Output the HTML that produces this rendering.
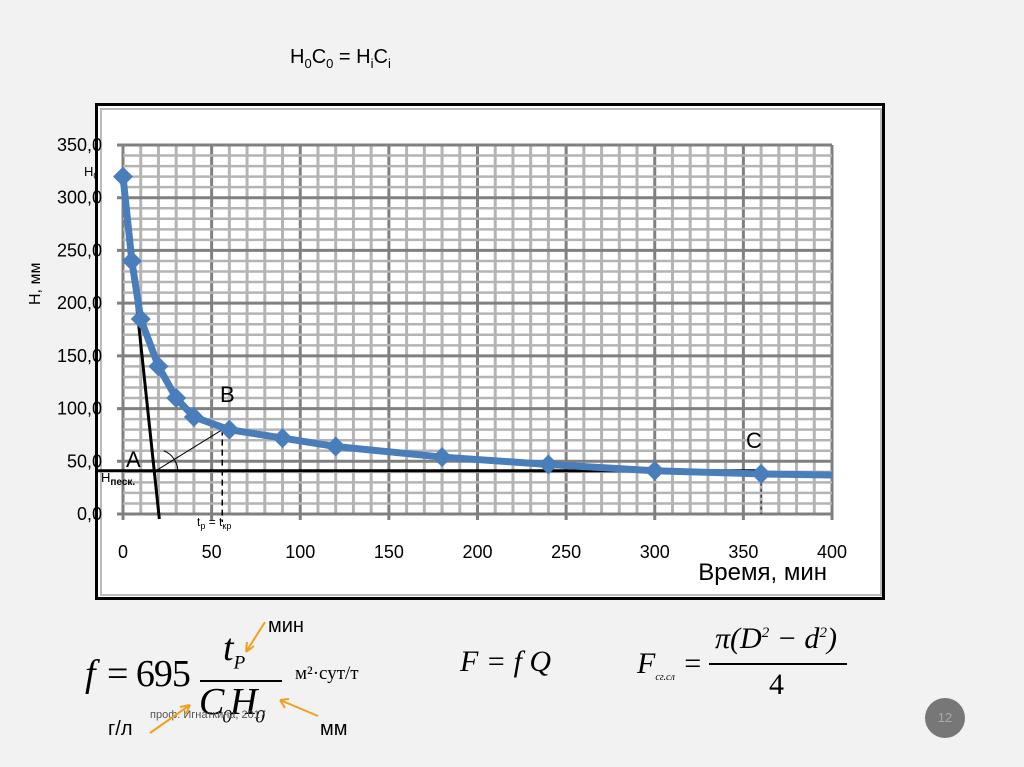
<!DOCTYPE html>
<html><head><meta charset="utf-8"><style>
body{margin:0;width:1024px;height:767px;background:#f2f2f2;position:relative;overflow:hidden;font-family:"Liberation Sans","DejaVu Sans",sans-serif}
.abs{position:absolute}
</style></head><body>
<div class="abs" style="left:290px;top:46px;font-size:20px">H<sub style="font-size:13px">0</sub>C<sub style="font-size:13px">0</sub> = H<sub style="font-size:13px">i</sub>C<sub style="font-size:13px">i</sub></div>
<div class="abs" style="left:95px;top:103px;width:784px;height:491px;border:3px solid #000;background:#fff"></div>
<div class="abs" style="left:100px;top:108px;width:778px;height:484px;border:2px solid #bbb"></div>
<svg class="abs" style="left:0;top:0" width="1024" height="767">
<g id="grid"></g><g id="axes"></g><g id="ann"></g><g id="series"></g>
</svg>
<div class="abs" style="left:85px;top:630px;width:330px;height:110px;font-family:'Liberation Serif',serif">
<span class="abs" style="left:0;top:22px;font-size:38px;font-style:italic">f</span>
<span class="abs" style="left:22px;top:22px;font-size:38px;letter-spacing:-1px">= 695</span>
<span class="abs" style="left:138px;top:-4px;font-size:38px;font-style:italic">t<sub style="font-size:19px">P</sub></span>
<div class="abs" style="left:115px;top:50px;width:82px;border-top:2px solid #000"></div>
<span class="abs" style="left:114px;top:50px;font-size:38px;font-style:italic;letter-spacing:-2px">C<sub style="font-size:19px">0</sub>H<sub style="font-size:19px">0</sub></span>
<span class="abs" style="left:210px;top:33px;font-size:19px">м²·сут/т</span>
</div>
<div class="abs" style="left:268px;top:615px;font-size:20px">мин</div>
<div class="abs" style="left:108px;top:718px;font-size:20px">г/л</div>
<div class="abs" style="left:320px;top:718px;font-size:20px">мм</div>
<div class="abs" style="left:150px;top:709px;font-size:11px;color:#555">проф. Игнаткина, 2017</div>
<svg class="abs" style="left:0;top:0" width="1024" height="767">
<g stroke="#f0a020" stroke-width="2" fill="none">
<path d="M265 622 L246 652 M246 652 L247 642 M246 652 L254 646"/>
<path d="M150 733 L190 705 M190 705 L180 707 M190 705 L186 714"/>
<path d="M318 716 L280 700 M280 700 L289 699 M280 700 L285 708"/>
</g></svg>
<div class="abs" style="left:460px;top:645px;font-size:30px;font-style:italic;font-family:'Liberation Serif',serif">F = f Q</div>
<div class="abs" style="left:637px;top:620px;width:220px;height:100px;font-family:'Liberation Serif',serif">
<span class="abs" style="left:0;top:27px;font-size:30px;font-style:italic">F<sub style="font-size:10px">сг.сл</sub> =</span>
<span class="abs" style="left:78px;top:2px;font-size:30px;font-style:italic">π(D<sup style="font-size:15px">2</sup> − d<sup style="font-size:15px">2</sup>)</span>
<div class="abs" style="left:72px;top:43px;width:138px;border-top:2px solid #000"></div>
<span class="abs" style="left:132px;top:48px;font-size:30px">4</span>
</div>
<div class="abs" style="left:925px;top:698px;width:40px;height:40px;border-radius:50%;background:#777;color:#aaa;font-size:13px;text-align:center;line-height:40px">12</div>
<script>
const xTicks=[0,50,100,150,200,250,300,350,400];
const yTicks=[0,50,100,150,200,250,300,350];
const timeVals=[0,5,10,20,30,40,60,90,120,180,240,300,360,400];
const hVals=[320,240,185,140,110,92,80,72,64,54,47,41,38,37];
const markerTimes=[0,5,10,20,30,40,60,90,120,180,240,300,360];
const hSand=41;
const X0=123,X1=832,Y0=514,Y1=145;
const sx=v=>X0+(X1-X0)*v/400, sy=v=>Y0-(Y0-Y1)*v/350;
const NS='http://www.w3.org/2000/svg';
function mk(p,t,a){const e=document.createElementNS(NS,t);for(const k in a)e.setAttribute(k,a[k]);p.appendChild(e);return e;}
const grid=document.getElementById('grid'),axes=document.getElementById('axes'),ann=document.getElementById('ann'),ser=document.getElementById('series');
for(let v=0;v<=400;v+=10){const l=mk(grid,'line',{x1:sx(v),x2:sx(v),y1:Y1,y2:Y0+(v%50?0:6),stroke:v%50?'#b4b4b4':'#808080','stroke-width':3});
}
for(let v=0;v<=350;v+=10){const l=mk(grid,'line',{x1:X0-(v%50?0:6),x2:X1,y1:sy(v),y2:sy(v),stroke:v%50?'#b4b4b4':'#808080','stroke-width':v%50?2.5:3});
}
xTicks.forEach(v=>{const t=mk(axes,'text',{x:sx(v),y:558,'text-anchor':'middle','font-size':18});t.textContent=v;
});
yTicks.forEach(v=>{const t=mk(axes,'text',{x:102,y:sy(v)+6,'text-anchor':'end','font-size':18});t.textContent=v.toFixed(1).replace('.',',');
});
let t=mk(axes,'text',{x:827,y:580,'text-anchor':'end','font-size':24});t.textContent='Время, мин';

t=mk(axes,'text',{x:0,y:0,'font-size':16,transform:'translate(40,305) rotate(-90)'});t.textContent='H, мм';

const yS=sy(hSand);
let l=mk(ann,'line',{x1:98,x2:sx(360),y1:yS,y2:yS,stroke:'#000','stroke-width':3});
l=mk(ann,'line',{x1:sx(0),y1:sy(hVals[0]),x2:sx(20.5),y2:sy(0)+5,stroke:'#000','stroke-width':3});
const ax=sx(18.5),bx=sx(56),by=sy(80);
l=mk(ann,'line',{x1:ax,y1:yS,x2:bx,y2:by,stroke:'#000','stroke-width':1});
l=mk(ann,'line',{x1:bx,y1:by,x2:bx,y2:522,stroke:'#000','stroke-width':1.5,'stroke-dasharray':'6,4'});
l=mk(ann,'line',{x1:sx(360),y1:yS,x2:sx(360),y2:Y0,stroke:'#000','stroke-width':1,'stroke-dasharray':'3,3'});
l=mk(ann,'path',{d:`M${ax+22} ${yS} A22 22 0 0 0 ${ax+8} ${yS-20}`,fill:'none',stroke:'#000','stroke-width':1});
[['A',126,467,22,'label-a'],['B',220,402,22,'label-b'],['C',746,448,22,'label-c']].forEach(a=>{const e=mk(ann,'text',{x:a[1],y:a[2],'font-size':a[3]});e.textContent=a[0];});
let e=mk(ann,'text',{x:84,y:176,'font-size':13});e.innerHTML='H<tspan font-size="9" dy="3">0</tspan>';
e=mk(ann,'text',{x:101,y:482,'font-size':13});e.innerHTML='H<tspan font-size="10" font-weight="bold" dy="3">песк.</tspan>';
e=mk(ann,'text',{x:197,y:526,'font-size':12});e.innerHTML='t<tspan font-size="9" dy="3">p</tspan><tspan dy="-3"> = t</tspan><tspan font-size="9" dy="3">кр</tspan>';
const pl=mk(ser,'polyline',{points:timeVals.map((v,i)=>sx(v)+','+sy(hVals[i])).join(' '),fill:'none',stroke:'#4a7ebb','stroke-width':7,'stroke-linejoin':'round'});

timeVals.forEach((v,i)=>{if(!markerTimes.includes(v))return;const x=sx(v),y=sy(hVals[i]);
const m=mk(ser,'path',{d:`M${x} ${y-10}L${x+10} ${y}L${x} ${y+10}L${x-10} ${y}Z`,fill:'#4a7ebb'});
});
</script>
</body></html>
